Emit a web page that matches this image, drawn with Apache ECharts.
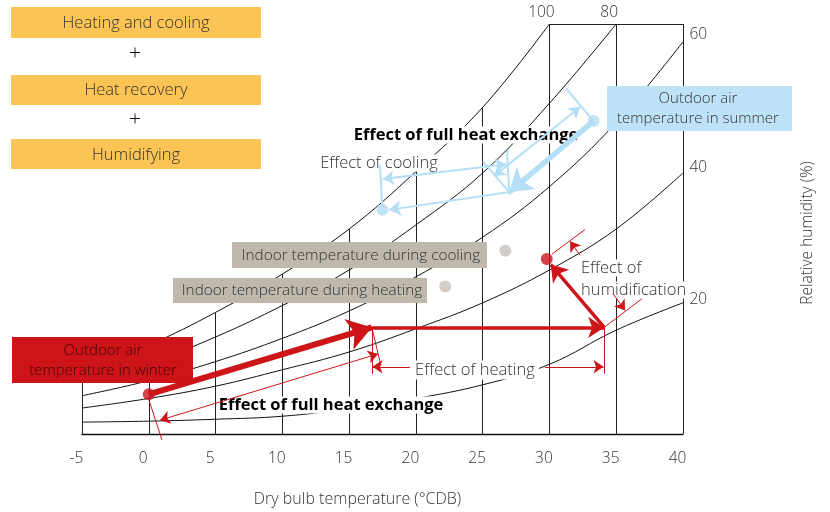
<!DOCTYPE html>
<html>
<head>
<meta charset="utf-8">
<script src="https://cdn.jsdelivr.net/npm/echarts@6/dist/echarts.min.js"></script>
<style>
  html, body { margin: 0; padding: 0; background: #fff; }
  #chart { width: 830px; height: 512px; }
</style>
</head>
<body>
<div id="chart"></div>
<script>
// dry bulb temperature (°C) of the grid lines
var temps = [-5, 0, 5, 10, 15, 20, 25, 30, 35, 40];
var tempLabels = ['-5', '0', '5', '10', '15', '20', '25', '30', '35', '40'];
// humidity (hidden axis, top of plot = 30)
var yTop = 30;
var gridTop = [4.6, 6.5, 8.9, 11.7, 15.0, 19.2, 23.9, 30, 30, 30];
var rh100 = [4.6, 6.5, 8.9, 11.7, 15.0, 19.2, 23.9, 30.0];
var rh80 = [3.8, 5.2, 7.1, 9.4, 12.0, 15.3, 19.1, 24.2, 30.0];
var rh60 = [2.8, 3.9, 5.3, 7.0, 9.0, 11.5, 14.4, 18.1, 22.8, 28.7];
var rh40 = [1.9, 2.6, 3.5, 4.7, 6.0, 7.7, 9.6, 12.0, 15.0, 19.1];
var rh20 = [0.87, 0.94, 1.08, 1.3, 1.85, 2.6, 3.6, 5.1, 7.6, 9.6];
var rhNames = ['100', '80', '60', '40', '20'];

// state points [temperature, humidity]
var winterOut = [0.0, 2.9];
var winterHx = [16.7, 7.8];
var winterHeat = [34.1, 7.8];
var winterHum = [29.8, 12.8];
var summerOut = [33.3, 22.9];
var summerHx = [27.0, 17.7];
var summerCool = [17.5, 16.4];
var indoorCool = [26.7, 13.4];
var indoorHeat = [22.2, 10.8];

var FONT = '"Open Sans", "Noto Sans", sans-serif';
var RED = '#cc1419', BLUE = '#b5dff6', GREY = '#c8c2b9', INK = '#333';

var chart = echarts.init(document.getElementById('chart'));

function curve(vals, name, pos, off) {
  var data = vals.map(function (v, i) { return [temps[i], v]; });
  var k = data.length - 1;
  data[k] = {
    value: data[k],
    label: { show: true, formatter: name, position: pos, offset: off,
      color: INK, fontSize: 15.5, fontWeight: 300, fontFamily: FONT,
      backgroundColor: '#fff', padding: [1, 2] }
  };
  return {
    type: 'line', data: data, smooth: 0.4,
    symbol: 'circle', symbolSize: 1, showSymbol: true,
    itemStyle: { color: 'rgba(0,0,0,0)' },
    lineStyle: { color: '#111', width: 1 }, silent: true, z: 2
  };
}

function segs(list, color, width, sym, size, z) {
  return {
    type: 'lines', coordinateSystem: 'cartesian2d', clip: false, silent: true,
    z: z || 20, symbol: sym, symbolSize: size,
    lineStyle: { color: color, width: width, opacity: 1 },
    data: list.map(function (c) { return { coords: c }; })
  };
}

// vertical grid lines up to the saturation curve, plus the top edge
var gridLines = temps.map(function (t, i) { return [[t, 0], [t, gridTop[i]]]; });
gridLines.push([[30, yTop], [40, yTop]]);

var series = [
  segs(gridLines, '#222', 1, ['none', 'none'], 0, 1),
  curve(rh100, rhNames[0], 'top', [-8, 3]),
  curve(rh80, rhNames[1], 'top', [-7, 3]),
  curve(rh60, rhNames[2], 'right', [-1, -7]),
  curve(rh40, rhNames[3], 'right', [-1, -5]),
  curve(rh20, rhNames[4], 'right', [-1, -3]),

  // winter process (red)
  segs([[winterOut, winterHx]], RED, 6, ['none', 'arrow'], 24),
  segs([[winterHx, winterHeat], [winterHeat, [30.1, 12.4]]], RED, 3.5, ['none', 'arrow'], 16),
  segs([
    [[0.02, 2.46], [0.99, -0.43]],
    [winterHx, [17.39, 4.99]],
    [winterHx, [16.7, 4.41]],
    [winterHeat, [34.1, 4.41]],
    [winterHeat, [36.93, 9.9]],
    [[30.19, 13.16], [32.66, 14.96]]
  ], RED, 1, ['none', 'none'], 0),
  segs([[[0.84, 1.01], [17.16, 5.86]]], RED, 1, ['arrow', 'arrow'], 10),
  segs([
    [[19.56, 4.92], [16.75, 4.92]],
    [[29.67, 4.92], [34.05, 4.92]],
    [[32.29, 13.08], [31.54, 14.1]],
    [[34.76, 10.27], [35.66, 9.04]]
  ], RED, 1, ['none', 'arrow'], 10),

  // summer process (blue)
  segs([[summerOut, summerHx]], BLUE, 5.5, ['none', 'arrow'], 22),
  segs([[summerHx, [18.0, 16.4]]], BLUE, 2, ['none', 'arrow'], 12),
  segs([
    [summerCool, [17.31, 19.66]],
    [[27.0, 17.5], [26.82, 20.75]],
    [summerHx, [25.02, 19.95]],
    [summerOut, [31.24, 25.3]]
  ], BLUE, 2, ['none', 'none'], 0),
  segs([[[17.54, 18.65], [26.75, 19.73]], [[25.85, 18.87], [32.29, 23.93]]], BLUE, 2, ['arrow', 'arrow'], 11),

  {
    type: 'scatter', symbolSize: 12, silent: true, z: 30,
    data: [
      { value: winterOut, itemStyle: { color: RED } },
      { value: winterHum, itemStyle: { color: RED } },
      { value: summerOut, itemStyle: { color: BLUE } },
      { value: summerCool, itemStyle: { color: BLUE } },
      { value: indoorCool, itemStyle: { color: GREY } },
      { value: indoorHeat, itemStyle: { color: GREY } }
    ]
  }
];

function box(x, y, w, h, fill) {
  return { type: 'rect', shape: { x: x, y: y, width: w, height: h }, style: { fill: fill }, z: 10 };
}
function txt(x, y, s, opt) {
  opt = opt || {};
  return {
    type: 'text', x: x, y: y, z: opt.z || 11, rotation: opt.rot || 0,
    style: {
      text: s, fill: opt.color || INK,
      font: (opt.bold ? 'bold ' : '300 ') + (opt.size || 16.5) + 'px ' + FONT,
      textAlign: opt.align || 'center', textVerticalAlign: 'middle',
      backgroundColor: opt.bg, padding: opt.pad, lineHeight: opt.lh
    }
  };
}

var YEL = '#fbc454';
var graphics = [
  box(11, 7, 250, 31, YEL), txt(136, 23, 'Heating and cooling'),
  txt(135, 54, '+', { size: 22, color: '#111' }),
  box(11, 75, 250, 30, YEL), txt(136, 90, 'Heat recovery'),
  txt(135, 120, '+', { size: 22, color: '#111' }),
  box(11, 139, 250, 30, YEL), txt(136, 155, 'Humidifying'),

  box(607, 86, 185, 45, '#bee3f8'),
  txt(698, 109, 'Outdoor air\ntemperature in summer', { lh: 20, size: 15 }),
  box(232, 242, 255, 26, '#bfb8ad'),
  txt(361, 256, 'Indoor temperature during cooling', { size: 15.3 }),
  box(173, 278, 254, 25, '#bfb8ad'),
  txt(302, 291, 'Indoor temperature during heating', { size: 15.3 }),
  box(12, 337, 181, 46, RED),
  txt(103, 361, 'Outdoor air\ntemperature in winter', { lh: 20, size: 15, color: '#3d0606' }),

  txt(466, 135, 'Effect of full heat exchange', { bold: true, size: 16.5, color: '#000', bg: '#fff', pad: [0, 2] }),
  txt(379, 163, 'Effect of cooling', { bg: '#fff', pad: [0, 2] }),
  txt(331, 405, 'Effect of full heat exchange', { bold: true, size: 16.5, color: '#000', bg: '#fff', pad: [0, 2] }),
  txt(475, 370, 'Effect of heating', { bg: '#fff', pad: [1, 4] }),
  txt(580, 268, 'Effect of', { align: 'left', bg: '#fff', pad: [0, 1] }),
  txt(580, 290, 'humidification', { align: 'left', bg: '#fff', pad: [0, 1] }),

  txt(808, 233, 'Relative humidity (%)', { size: 15.5, rot: Math.PI / 2 })
];

chart.setOption({
  animation: false,
  grid: { left: 82, right: 147, top: 24, bottom: 73 },
  xAxis: {
    type: 'value', min: -5, max: 40, interval: 5,
    axisLine: { lineStyle: { color: '#111', width: 1.3 } },
    axisTick: { show: false }, splitLine: { show: false },
    axisLabel: {
      margin: 17, color: INK, fontSize: 15.5, fontWeight: 300, fontFamily: FONT, padding: [0, 11, 0, 0],
      formatter: function (v) { return tempLabels[temps.indexOf(v)]; }
    },
    name: 'Dry bulb temperature (°CDB)', nameLocation: 'middle', nameGap: 57,
    nameTextStyle: { color: INK, fontSize: 16, fontWeight: 300, fontFamily: FONT, padding: [0, 50, 0, 0] }
  },
  yAxis: { type: 'value', min: 0, max: yTop, show: false },
  series: series,
  graphic: graphics
});
</script>
</body>
</html>
